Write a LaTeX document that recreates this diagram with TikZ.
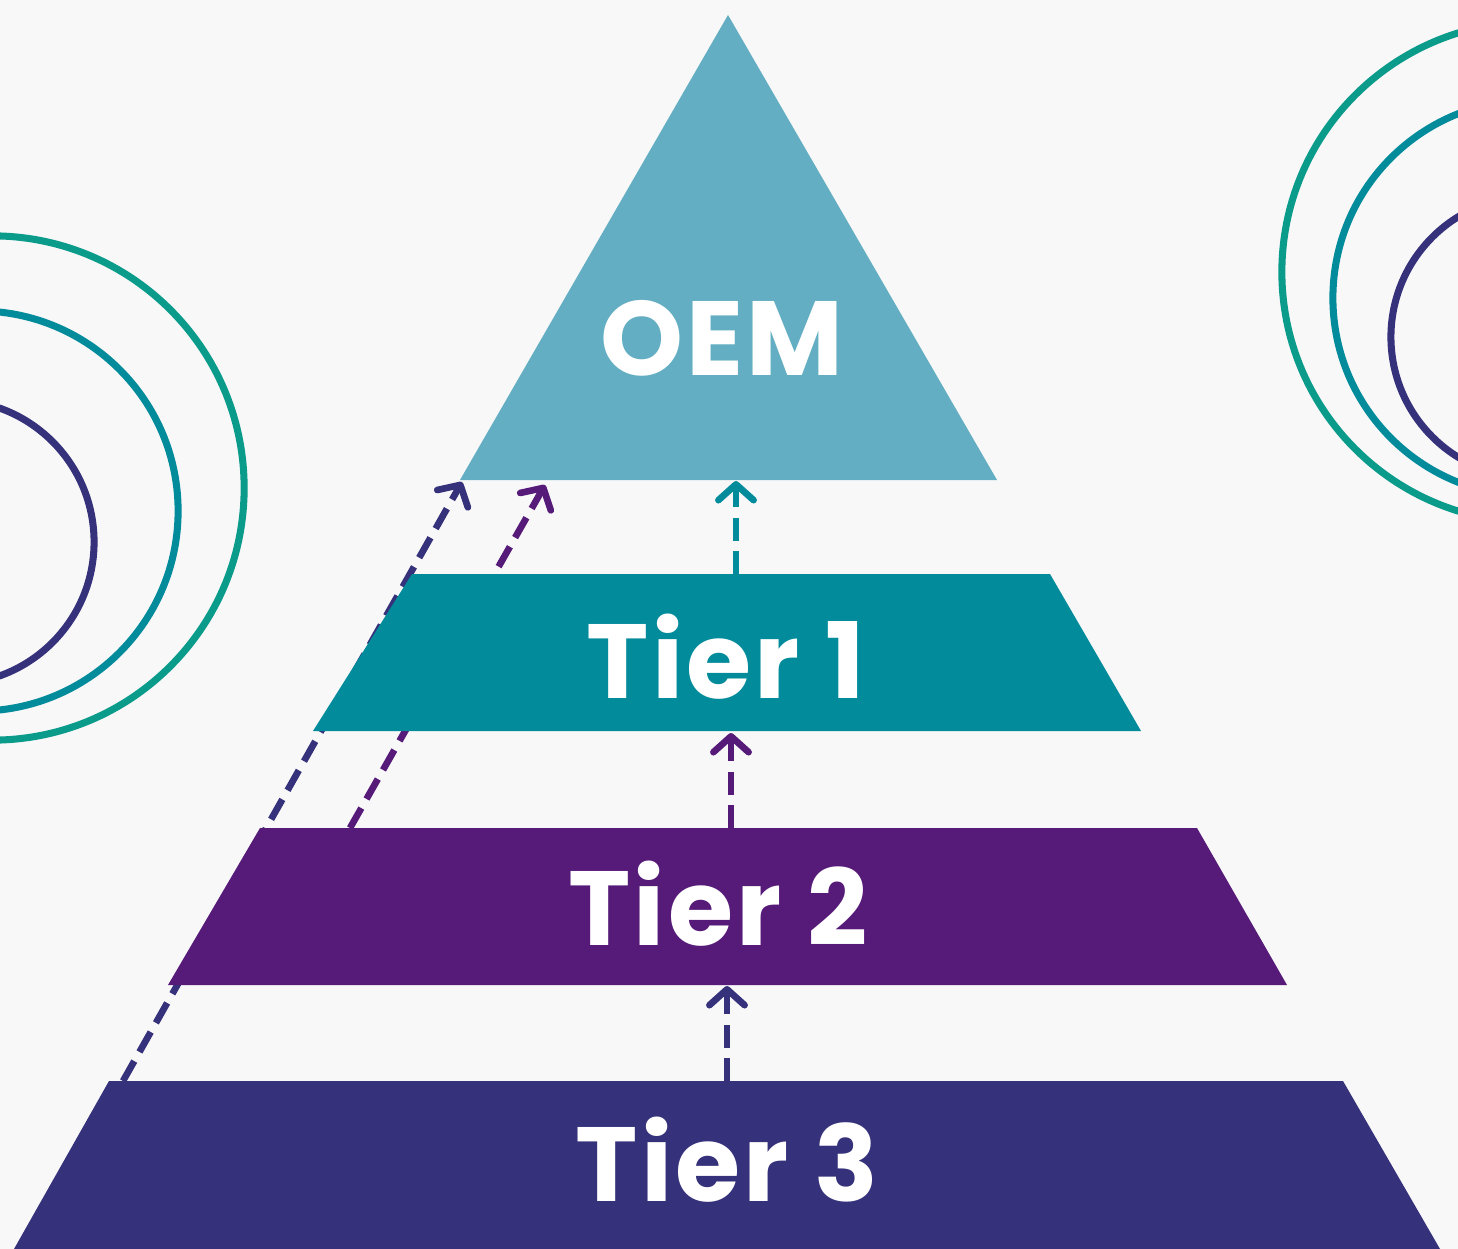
\documentclass[tikz,border=0pt]{standalone}
\usepackage{fontspec}
\setsansfont{Poppins}
\usetikzlibrary{arrows.meta}

\definecolor{bgcol}{HTML}{F8F8F8}
\definecolor{oemcol}{HTML}{63AEC2}
\definecolor{tierone}{HTML}{028B9B}
\definecolor{tiertwo}{HTML}{561A79}
\definecolor{tierthree}{HTML}{35317A}
\definecolor{ringgreen}{HTML}{0A9B8A}

\tikzset{
    ring/.style={line width=2pt},
    flow/.style={line width=1.9pt, dash pattern=on 6.5pt off 3pt,
        -{Straight Barb[round,length=4.5pt,width=10pt]}},
    tierlabel/.style={text=white, inner sep=0pt,
        font=\sffamily\bfseries\fontsize{30}{30}\selectfont\addfontfeatures{LetterSpace=3}},
}

\begin{document}
\begin{tikzpicture}[x=0.01cm, y=-0.01cm]

% Background and frame
\fill[bgcol] (0,0) rectangle (1458,1249);
\useasboundingbox (0,0) rectangle (1458,1249);
\clip (0,0) rectangle (1458,1249);

% Rings on both sides
\foreach \cx/\cy/\r/\col in {-8/488/2.52/ringgreen, -22/511/2.0/tierone, -48/542/1.42/tierthree,
    1532/272/2.50/ringgreen, 1531/298/1.98/tierone, 1532/337/1.41/tierthree} {
    \draw[ring, \col] (\cx,\cy) circle (\r cm);
}

% Points on the tiers
\coordinate (t3top) at (727,1081);
\coordinate (t2bot) at (727,986);
\coordinate (t2top) at (731,828);
\coordinate (t1bot) at (731,733);
\coordinate (t1top) at (736,574);
\coordinate (oembot) at (736,481);
\coordinate (t3left) at (123,1081);
\coordinate (oemleft) at (462,482);
\coordinate (t2left) at (350,828);
\coordinate (oemmid) at (545,485);

% Long dashed lines (behind the tiers)
\draw[flow, tierthree] (t3left) -- (oemleft);
\draw[flow, tiertwo] (t2left) -- (oemmid);

% The pyramid
\fill[oemcol] (728,15) -- (997,480) -- (460,480) -- cycle;
\fill[tierone] (412,574) -- (1050,574) -- (1141,731) -- (313,731) -- cycle;
\fill[tiertwo] (260,828) -- (1197,828) -- (1287,985) -- (168,985) -- cycle;
\fill[tierthree] (109,1081) -- (1343,1081) -- (1440,1249) -- (14,1249) -- cycle;

% Labels
\node[tierlabel] (oem) at (722,338) {OEM};
\node[tierlabel] (tier1) at (726,657) {Tier 1};
\node[tierlabel] (tier2) at (718,904) {Tier 2};
\node[tierlabel] (tier3) at (727,1160) {Tier 3};

% Short arrows between tiers
\draw[flow, tierthree] (t3top) -- (t2bot);
\draw[flow, tiertwo] (t2top) -- (t1bot);
\draw[flow, tierone] (t1top) -- (oembot);

\end{tikzpicture}
\end{document}
